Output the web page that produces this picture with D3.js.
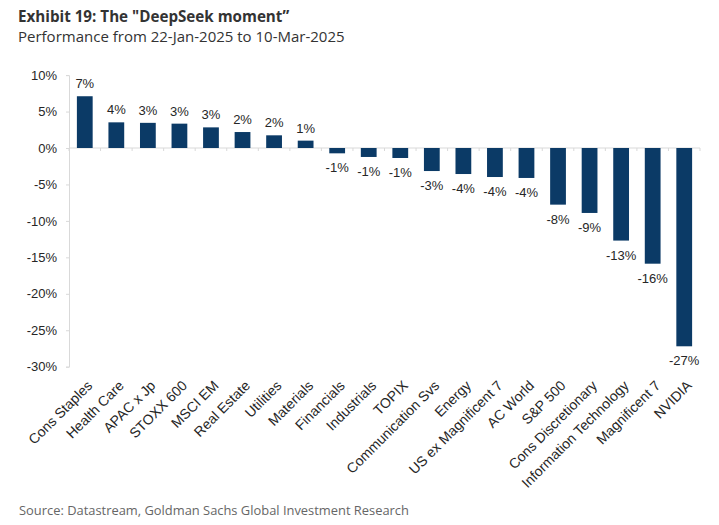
<!DOCTYPE html>
<html>
<head>
<meta charset="utf-8">
<script src="https://cdn.jsdelivr.net/npm/d3@7"></script>
<style>
  html, body { margin: 0; padding: 0; background: #fff; }
  svg { display: block; }
</style>
</head>
<body>
<svg id="chart" width="719" height="525"></svg>
<script>
const categories = ["Cons Staples","Health Care","APAC x Jp","STOXX 600","MSCI EM","Real Estate","Utilities","Materials","Financials","Industrials","TOPIX","Communication Svs","Energy","US ex Magnificent 7","AC World","S&P 500","Cons Discretionary","Information Technology","Magnificent 7","NVIDIA"];
const values = [7.1, 3.52, 3.45, 3.34, 2.83, 2.19, 1.74, 1.01, -0.73, -1.23, -1.37, -3.16, -3.57, -3.98, -4.11, -7.77, -8.91, -12.7, -15.87, -27.2];
const yTicks = [10, 5, 0, -5, -10, -15, -20, -25, -30];
const titleText = "Exhibit 19: The \"DeepSeek moment\u201D";
const subtitleText = "Performance from 22-Jan-2025 to 10-Mar-2025";
const sourceText = "Source: Datastream, Goldman Sachs Global Investment Research";

const svg = d3.select("#chart");
const plotLeft = 69, plotRight = 700, plotTop = 75.1, plotBottom = 366.7;
const barColor = "#0b3a66";
const axisColor = "#d9d9d9";
const textColor = "#262626";
const labelFont = "'Liberation Sans', Arial, sans-serif";

const y = d3.scaleLinear().domain([-30, 10]).range([plotBottom, plotTop]);
const x = d3.scaleBand().domain(categories).range([plotLeft, plotRight]).paddingInner(0.5).paddingOuter(0.25);

// Titles
svg.append("text").attr("x", 18).attr("y", 21.5)
  .attr("font-family", "'Open Sans', sans-serif").attr("font-weight", 700)
  .attr("font-size", 15.2).attr("fill", "#333").text(titleText);
svg.append("text").attr("x", 18).attr("y", 41.5)
  .attr("font-family", "'Open Sans', sans-serif")
  .attr("font-size", 15).attr("fill", "#333").text(subtitleText);

// Y axis
const yAxis = svg.append("g").attr("transform", `translate(${plotLeft},0)`)
  .call(d3.axisLeft(y).tickValues(yTicks).tickSize(3).tickPadding(9).tickFormat(d => d + "%"));
yAxis.select(".domain").attr("stroke", axisColor);
yAxis.selectAll(".tick line").attr("stroke", axisColor);
yAxis.selectAll(".tick text").attr("font-family", labelFont).attr("font-size", 13).attr("fill", textColor);

// Zero line with category boundary ticks
const step = x.step();
const boundaries = d3.range(categories.length + 1).map(i => x(categories[0]) - x.paddingOuter() * step + i * step);
svg.append("line").attr("x1", plotLeft).attr("x2", plotRight).attr("y1", y(0)).attr("y2", y(0))
  .attr("stroke", axisColor).attr("stroke-width", 1);
svg.append("g").selectAll("line").data(boundaries).join("line")
  .attr("x1", d => d).attr("x2", d => d)
  .attr("y1", y(0)).attr("y2", y(0) + 3)
  .attr("stroke", axisColor);

// Bars
svg.append("g").selectAll("rect").data(values).join("rect")
  .attr("x", (d, i) => x(categories[i]))
  .attr("width", x.bandwidth())
  .attr("y", d => y(Math.max(0, d)))
  .attr("height", d => Math.abs(y(d) - y(0)))
  .attr("fill", barColor);

// Data labels
svg.append("g").selectAll("text").data(values).join("text")
  .attr("x", (d, i) => x(categories[i]) + x.bandwidth() / 2)
  .attr("y", d => d >= 0 ? y(d) - 8 : y(d) + 19)
  .attr("text-anchor", "middle")
  .attr("font-family", labelFont).attr("font-size", 13).attr("fill", textColor)
  .text(d => Math.round(d) + "%");

// Category labels (rotated)
svg.append("g").selectAll("text").data(categories).join("text")
  .attr("transform", d => `translate(${x(d) + x.bandwidth() / 2 + 5},383) rotate(-45)`)
  .attr("text-anchor", "end").attr("dy", "0.35em")
  .attr("font-family", labelFont).attr("font-size", 14).attr("fill", textColor)
  .text(d => d);

// Source
svg.append("text").attr("x", 19).attr("y", 515)
  .attr("font-family", "'Open Sans', sans-serif")
  .attr("font-size", 12.9).attr("fill", "#666").text(sourceText);
</script>
</body>
</html>
